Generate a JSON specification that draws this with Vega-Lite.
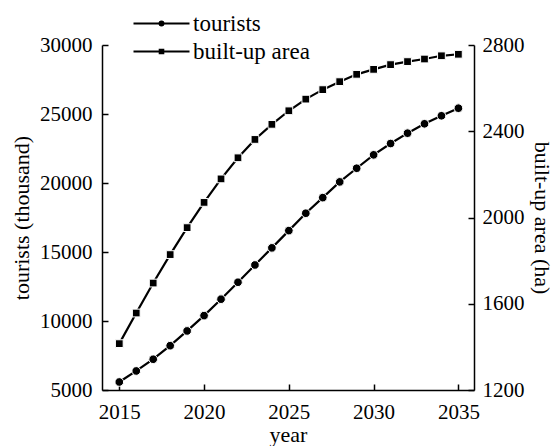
{
  "$schema": "https://vega.github.io/schema/vega-lite/v6.json",
  "width": 372,
  "height": 345,
  "padding": {"left": 102, "top": 45, "right": 79, "bottom": 56},
  "autosize": {"type": "none"},
  "background": "white",
  "config": {
    "view": {"stroke": null},
    "axis": {
      "grid": false,
      "domainColor": "black",
      "domainWidth": 1.5,
      "tickColor": "black",
      "tickWidth": 1.5,
      "tickSize": -6,
      "labelFont": "Liberation Serif",
      "titleFont": "Liberation Serif",
      "labelFontSize": 21,
      "titleFontSize": 22,
      "titleFontWeight": "normal",
      "labelColor": "black",
      "titleColor": "black"
    }
  },
  "data": {
    "values": [
      {"year": 2015, "series": "tourists", "value": 5580},
      {"year": 2016, "series": "tourists", "value": 6380},
      {"year": 2017, "series": "tourists", "value": 7230},
      {"year": 2018, "series": "tourists", "value": 8210},
      {"year": 2019, "series": "tourists", "value": 9280},
      {"year": 2020, "series": "tourists", "value": 10390},
      {"year": 2021, "series": "tourists", "value": 11580},
      {"year": 2022, "series": "tourists", "value": 12810},
      {"year": 2023, "series": "tourists", "value": 14060},
      {"year": 2024, "series": "tourists", "value": 15300},
      {"year": 2025, "series": "tourists", "value": 16550},
      {"year": 2026, "series": "tourists", "value": 17810},
      {"year": 2027, "series": "tourists", "value": 18940},
      {"year": 2028, "series": "tourists", "value": 20080},
      {"year": 2029, "series": "tourists", "value": 21070},
      {"year": 2030, "series": "tourists", "value": 22040},
      {"year": 2031, "series": "tourists", "value": 22860},
      {"year": 2032, "series": "tourists", "value": 23610},
      {"year": 2033, "series": "tourists", "value": 24290},
      {"year": 2034, "series": "tourists", "value": 24870},
      {"year": 2035, "series": "tourists", "value": 25420},
      {"year": 2015, "series": "built-up area", "value": 1415},
      {"year": 2016, "series": "built-up area", "value": 1557},
      {"year": 2017, "series": "built-up area", "value": 1696},
      {"year": 2018, "series": "built-up area", "value": 1828},
      {"year": 2019, "series": "built-up area", "value": 1953},
      {"year": 2020, "series": "built-up area", "value": 2070},
      {"year": 2021, "series": "built-up area", "value": 2179},
      {"year": 2022, "series": "built-up area", "value": 2277},
      {"year": 2023, "series": "built-up area", "value": 2362},
      {"year": 2024, "series": "built-up area", "value": 2432},
      {"year": 2025, "series": "built-up area", "value": 2495},
      {"year": 2026, "series": "built-up area", "value": 2549},
      {"year": 2027, "series": "built-up area", "value": 2593},
      {"year": 2028, "series": "built-up area", "value": 2630},
      {"year": 2029, "series": "built-up area", "value": 2664},
      {"year": 2030, "series": "built-up area", "value": 2687},
      {"year": 2031, "series": "built-up area", "value": 2709},
      {"year": 2032, "series": "built-up area", "value": 2723},
      {"year": 2033, "series": "built-up area", "value": 2735},
      {"year": 2034, "series": "built-up area", "value": 2750},
      {"year": 2035, "series": "built-up area", "value": 2757}
    ]
  },
  "encoding": {
    "x": {
      "field": "year",
      "type": "quantitative",
      "scale": {"domain": [2013.98, 2035.92], "nice": false, "zero": false},
      "axis": {"title": "year", "values": [2015, 2020, 2025, 2030, 2035], "format": "d", "labelPadding": 17, "titlePadding": 2, "labelFlush": false}
    }
  },
  "layer": [
    {
      "transform": [{"filter": "datum.series === 'tourists'"}],
      "encoding": {
        "y": {
          "field": "value",
          "type": "quantitative",
          "scale": {"domain": [5000, 30000], "nice": false, "zero": false},
          "axis": {"orient": "left", "title": "tourists (thousand)", "values": [5000, 10000, 15000, 20000, 25000, 30000], "format": "d", "labelPadding": 16, "titlePadding": 6}
        }
      },
      "layer": [
        {"mark": {"type": "line", "color": "black", "strokeWidth": 2.2}},
        {"mark": {"type": "point", "shape": "circle", "filled": true, "color": "black", "opacity": 1, "size": 75, "stroke": "white", "strokeWidth": 1}}
      ]
    },
    {
      "transform": [{"filter": "datum.series === 'built-up area'"}],
      "encoding": {
        "y": {
          "field": "value",
          "type": "quantitative",
          "scale": {"domain": [1200, 2800], "nice": false, "zero": false},
          "axis": {"orient": "right", "title": "built-up area (ha)", "values": [1200, 1600, 2000, 2400, 2800], "format": "d", "labelPadding": 14, "titlePadding": 5}
        }
      },
      "layer": [
        {"mark": {"type": "line", "color": "black", "strokeWidth": 2.2}},
        {"mark": {"type": "point", "shape": "square", "filled": true, "color": "black", "opacity": 1, "size": 60, "stroke": "white", "strokeWidth": 1}}
      ]
    },
    {
      "transform": [{"filter": "datum.year < 0"}],
      "mark": {"type": "point", "filled": false, "color": "black", "strokeWidth": 2, "opacity": 1},
      "encoding": {
        "shape": {
          "field": "series",
          "type": "nominal",
          "scale": {
            "domain": ["tourists", "built-up area"],
            "range": [
              "M-2.8,0H2.8M0.2,0A0.2,0.2,0,1,1,-0.2,0A0.2,0.2,0,1,1,0.2,0ZM0.05,0A0.05,0.05,0,1,1,-0.05,0A0.05,0.05,0,1,1,0.05,0Z",
              "M-2.8,0H2.8M-0.18,-0.18H0.18V0.18H-0.18ZM-0.05,-0.05H0.05V0.05H-0.05Z"
            ]
          },
          "legend": {
            "title": null,
            "orient": "none",
            "legendX": 48,
            "legendY": -33,
            "padding": 0,
            "rowPadding": 4,
            "labelOffset": 20,
            "symbolSize": 400,
            "symbolStrokeWidth": 2,
            "symbolStrokeColor": "black",
            "labelFont": "Liberation Serif",
            "labelFontSize": 23,
            "labelColor": "black"
          }
        }
      }
    }
  ],
  "resolve": {"scale": {"y": "independent"}}
}
